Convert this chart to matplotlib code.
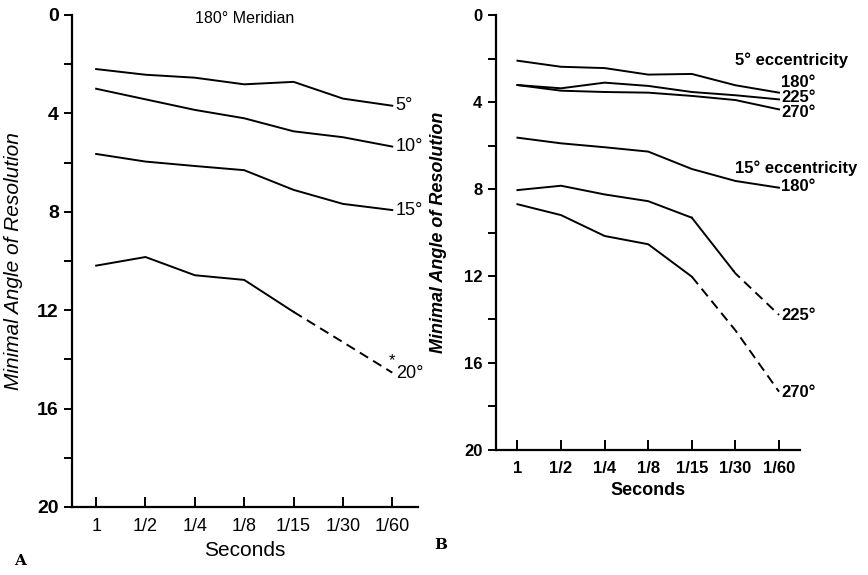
import matplotlib
matplotlib.use("Agg")
import matplotlib.pyplot as plt
from matplotlib.ticker import MultipleLocator

plt.rcParams['font.family'] = ['Liberation Sans', 'DejaVu Sans']

# exposure times (seconds)
seconds = ['1', '1/2', '1/4', '1/8', '1/15', '1/30', '1/60']

# panel A: 180 deg meridian, by eccentricity
a_5 = [2.2, 2.43, 2.55, 2.82, 2.72, 3.4, 3.69]
a_10 = [3.0, 3.43, 3.86, 4.2, 4.73, 4.97, 5.35]
a_15 = [5.65, 5.96, 6.14, 6.31, 7.11, 7.68, 7.93]
a_20 = [10.19, 9.84, 10.58, 10.77, 12.07, 13.3, 14.54]

# panel B: 5 deg eccentricity, by meridian
b5_180 = [2.1, 2.38, 2.44, 2.74, 2.71, 3.23, 3.57]
b5_225 = [3.22, 3.37, 3.11, 3.26, 3.54, 3.69, 3.88]
b5_270 = [3.22, 3.48, 3.54, 3.57, 3.72, 3.91, 4.34]
# panel B: 15 deg eccentricity, by meridian
b15_180 = [5.64, 5.9, 6.08, 6.28, 7.08, 7.63, 7.94]
b15_225 = [8.05, 7.85, 8.25, 8.56, 9.32, 11.88, 13.79]
b15_270 = [8.7, 9.2, 10.16, 10.54, 12.03, 14.5, 17.32]

x = list(range(len(seconds)))
lw = 1.4
dash = (0, (5, 3))

fig = plt.figure(figsize=(8.68, 5.75), dpi=100)
axA = fig.add_axes([0.0829, 0.1183, 0.3986, 0.8557])
axB = fig.add_axes([0.571, 0.2174, 0.3506, 0.7565])


def style_axis(ax, yfs, xfs, xweight):
    ax.set_ylim(20, 0)
    ax.set_xlim(-0.49, 6.52)
    for s in ['top', 'right']:
        ax.spines[s].set_visible(False)
    ax.spines['left'].set_linewidth(1.6)
    ax.spines['bottom'].set_linewidth(1.6)
    ax.yaxis.set_major_locator(MultipleLocator(4))
    ax.yaxis.set_minor_locator(MultipleLocator(2))
    ax.tick_params(axis='y', which='both', direction='out', length=6, width=1.4,
                   labelsize=yfs)
    ax.tick_params(axis='x', direction='in', length=7, width=1.4, labelsize=xfs,
                   pad=8)
    ax.set_xticks(x)
    ax.set_xticklabels(seconds)
    for lab in ax.get_yticklabels():
        lab.set_fontweight('bold')
    for lab in ax.get_xticklabels():
        lab.set_fontweight(xweight)


# ---- panel A
style_axis(axA, 14, 13, 'normal')
for ys in [a_5, a_10, a_15]:
    axA.plot(x, ys, color='black', lw=lw)
axA.plot(x[:5], a_20[:5], color='black', lw=lw)
axA.plot(x[4:], a_20[4:], color='black', lw=lw, ls=dash)
labsA = ['5°', '10°', '15°']
for ys, lab in zip([a_5, a_10, a_15], labsA):
    axA.text(6.07, ys[-1], lab, fontsize=13, va='center', ha='left')
axA.text(6.07, a_20[-1] + 0.05, '20°', fontsize=13, va='center', ha='left')
axA.text(5.93, a_20[-1] - 0.5, '*', fontsize=12, va='center', ha='left')
axA.text(3.0, 0.15, '180° Meridian', fontsize=11.5, ha='center', va='center')
axA.set_xlabel('Seconds', fontsize=15, labelpad=4)
axA.set_ylabel('Minimal Angle of Resolution', fontsize=15, style='italic', labelpad=10)

# ---- panel B
style_axis(axB, 12, 12, 'bold')
axB.set_xlim(-0.5, 6.48)
for ys in [b5_180, b5_225, b5_270, b15_180]:
    axB.plot(x, ys, color='black', lw=lw)
axB.plot(x[:5], b15_225[:5], color='black', lw=lw)
axB.plot([4, 4.95], [b15_225[4], 11.75], color='black', lw=lw)
axB.plot([4.95, 5, 6], [11.75, b15_225[5], b15_225[6]], color='black', lw=lw, ls=dash)
axB.plot(x[:5], b15_270[:5], color='black', lw=lw)
axB.plot(x[4:], b15_270[4:], color='black', lw=lw, ls=dash)

lab_kw = dict(fontsize=12, fontweight='semibold', va='center')
axB.text(5.0, 2.1, '5° eccentricity', **lab_kw)
axB.text(6.05, 3.1, '180°', **lab_kw)
axB.text(6.05, 3.8, '225°', **lab_kw)
axB.text(6.05, 4.5, '270°', **lab_kw)
axB.text(5.0, 7.05, '15° eccentricity', **lab_kw)
axB.text(6.05, 7.9, '180°', **lab_kw)
axB.text(6.05, 13.8, '225°', **lab_kw)
axB.text(6.05, 17.35, '270°', **lab_kw)
axB.set_xlabel('Seconds', fontsize=13, fontweight='bold', labelpad=4)
axB.set_ylabel('Minimal Angle of Resolution', fontsize=13, style='italic',
               fontweight='bold', labelpad=12)

fig.text(0.016, 0.017, 'A', fontsize=11, fontweight='bold', family='DejaVu Serif')
fig.text(0.5, 0.045, 'B', fontsize=11, fontweight='bold', family='DejaVu Serif')

fig.savefig('out.png', dpi=100)
